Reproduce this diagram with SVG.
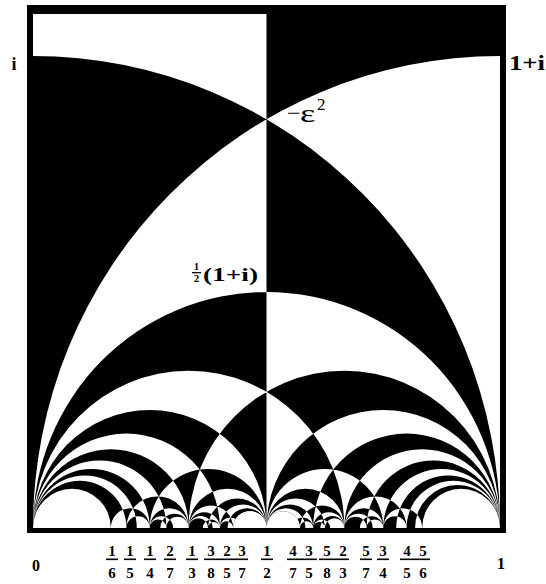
<svg xmlns="http://www.w3.org/2000/svg" width="546" height="584" viewBox="0 0 546 584">
<style>
.lab{font-family:"Liberation Serif","DejaVu Serif",serif;font-weight:bold;fill:#000}
.fr{font-family:"Liberation Serif","DejaVu Serif",serif;font-weight:bold;font-size:15px;fill:#000;text-anchor:middle}
.bar{fill:#000}
</style>
<defs>
<clipPath id="box"><rect x="33" y="14" width="467" height="514"/></clipPath>
</defs>
<rect width="546" height="584" fill="#fff"/>
<g id="frame">
<rect x="27" y="5" width="479" height="528" fill="#000"/>
<rect x="33" y="14" width="467" height="514" fill="#fff"/>
</g>
<g id="tiling" clip-path="url(#box)">
<path transform="matrix(467 0 0 -472 33 528)" fill="#000" fill-rule="evenodd" d="
M0.5,-0.2 H1.2 V1.3 H0.5 Z
M-1,0 A1,1 0 1 0 1,0 A1,1 0 1 0 -1,0Z
M0,0 A1,1 0 1 0 2,0 A1,1 0 1 0 0,0Z
M0,0 A0.5,0.5 0 1 0 1,0 A0.5,0.5 0 1 0 0,0Z
M0,0 A0.25,0.25 0 1 0 0.5,0 A0.25,0.25 0 1 0 0,0Z
M0.5,0 A0.25,0.25 0 1 0 1,0 A0.25,0.25 0 1 0 0.5,0Z
M0,0 A0.166667,0.166667 0 1 0 0.333333,0 A0.166667,0.166667 0 1 0 0,0Z
M0.333333,0 A0.083333,0.083333 0 1 0 0.5,0 A0.083333,0.083333 0 1 0 0.333333,0Z
M0.5,0 A0.083333,0.083333 0 1 0 0.666667,0 A0.083333,0.083333 0 1 0 0.5,0Z
M0.666667,0 A0.166667,0.166667 0 1 0 1,0 A0.166667,0.166667 0 1 0 0.666667,0Z
M0,0 A0.125,0.125 0 1 0 0.25,0 A0.125,0.125 0 1 0 0,0Z
M0.25,0 A0.041667,0.041667 0 1 0 0.333333,0 A0.041667,0.041667 0 1 0 0.25,0Z
M0.333333,0 A0.033333,0.033333 0 1 0 0.4,0 A0.033333,0.033333 0 1 0 0.333333,0Z
M0.4,0 A0.05,0.05 0 1 0 0.5,0 A0.05,0.05 0 1 0 0.4,0Z
M0.5,0 A0.05,0.05 0 1 0 0.6,0 A0.05,0.05 0 1 0 0.5,0Z
M0.6,0 A0.033333,0.033333 0 1 0 0.666667,0 A0.033333,0.033333 0 1 0 0.6,0Z
M0.666667,0 A0.041667,0.041667 0 1 0 0.75,0 A0.041667,0.041667 0 1 0 0.666667,0Z
M0.75,0 A0.125,0.125 0 1 0 1,0 A0.125,0.125 0 1 0 0.75,0Z
M0,0 A0.1,0.1 0 1 0 0.2,0 A0.1,0.1 0 1 0 0,0Z
M0.2,0 A0.025,0.025 0 1 0 0.25,0 A0.025,0.025 0 1 0 0.2,0Z
M0.25,0 A0.017857,0.017857 0 1 0 0.285714,0 A0.017857,0.017857 0 1 0 0.25,0Z
M0.285714,0 A0.02381,0.02381 0 1 0 0.333333,0 A0.02381,0.02381 0 1 0 0.285714,0Z
M0.333333,0 A0.020833,0.020833 0 1 0 0.375,0 A0.020833,0.020833 0 1 0 0.333333,0Z
M0.375,0 A0.0125,0.0125 0 1 0 0.4,0 A0.0125,0.0125 0 1 0 0.375,0Z
M0.4,0 A0.014286,0.014286 0 1 0 0.428571,0 A0.014286,0.014286 0 1 0 0.4,0Z
M0.428571,0 A0.035714,0.035714 0 1 0 0.5,0 A0.035714,0.035714 0 1 0 0.428571,0Z
M0.5,0 A0.035714,0.035714 0 1 0 0.571429,0 A0.035714,0.035714 0 1 0 0.5,0Z
M0.571429,0 A0.014286,0.014286 0 1 0 0.6,0 A0.014286,0.014286 0 1 0 0.571429,0Z
M0.6,0 A0.0125,0.0125 0 1 0 0.625,0 A0.0125,0.0125 0 1 0 0.6,0Z
M0.625,0 A0.020833,0.020833 0 1 0 0.666667,0 A0.020833,0.020833 0 1 0 0.625,0Z
M0.666667,0 A0.02381,0.02381 0 1 0 0.714286,0 A0.02381,0.02381 0 1 0 0.666667,0Z
M0.714286,0 A0.017857,0.017857 0 1 0 0.75,0 A0.017857,0.017857 0 1 0 0.714286,0Z
M0.75,0 A0.025,0.025 0 1 0 0.8,0 A0.025,0.025 0 1 0 0.75,0Z
M0.8,0 A0.1,0.1 0 1 0 1,0 A0.1,0.1 0 1 0 0.8,0Z
M0.333333,0 A0.333333,0.333333 0 1 0 1,0 A0.333333,0.333333 0 1 0 0.333333,0Z
M0,0 A0.333333,0.333333 0 1 0 0.666667,0 A0.333333,0.333333 0 1 0 0,0Z
M0.25,0 A0.125,0.125 0 1 0 0.5,0 A0.125,0.125 0 1 0 0.25,0Z
M0,0 A0.2,0.2 0 1 0 0.4,0 A0.2,0.2 0 1 0 0,0Z
M0.6,0 A0.2,0.2 0 1 0 1,0 A0.2,0.2 0 1 0 0.6,0Z
M0.5,0 A0.125,0.125 0 1 0 0.75,0 A0.125,0.125 0 1 0 0.5,0Z
M0.2,0 A0.066667,0.066667 0 1 0 0.333333,0 A0.066667,0.066667 0 1 0 0.2,0Z
M0,0 A0.142857,0.142857 0 1 0 0.285714,0 A0.142857,0.142857 0 1 0 0,0Z
M0.375,0 A0.0625,0.0625 0 1 0 0.5,0 A0.0625,0.0625 0 1 0 0.375,0Z
M0.333333,0 A0.047619,0.047619 0 1 0 0.428571,0 A0.047619,0.047619 0 1 0 0.333333,0Z
M0.571429,0 A0.047619,0.047619 0 1 0 0.666667,0 A0.047619,0.047619 0 1 0 0.571429,0Z
M0.5,0 A0.0625,0.0625 0 1 0 0.625,0 A0.0625,0.0625 0 1 0 0.5,0Z
M0.714286,0 A0.142857,0.142857 0 1 0 1,0 A0.142857,0.142857 0 1 0 0.714286,0Z
M0.666667,0 A0.066667,0.066667 0 1 0 0.8,0 A0.066667,0.066667 0 1 0 0.666667,0Z
M0.166667,0 A0.041667,0.041667 0 1 0 0.25,0 A0.041667,0.041667 0 1 0 0.166667,0Z
M0,0 A0.111111,0.111111 0 1 0 0.222222,0 A0.111111,0.111111 0 1 0 0,0Z
M0.272727,0 A0.030303,0.030303 0 1 0 0.333333,0 A0.030303,0.030303 0 1 0 0.272727,0Z
M0.25,0 A0.025,0.025 0 1 0 0.3,0 A0.025,0.025 0 1 0 0.25,0Z
M0.363636,0 A0.018182,0.018182 0 1 0 0.4,0 A0.018182,0.018182 0 1 0 0.363636,0Z
M0.333333,0 A0.025641,0.025641 0 1 0 0.384615,0 A0.025641,0.025641 0 1 0 0.333333,0Z
M0.416667,0 A0.041667,0.041667 0 1 0 0.5,0 A0.041667,0.041667 0 1 0 0.416667,0Z
M0.4,0 A0.022222,0.022222 0 1 0 0.444444,0 A0.022222,0.022222 0 1 0 0.4,0Z
M0.555556,0 A0.022222,0.022222 0 1 0 0.6,0 A0.022222,0.022222 0 1 0 0.555556,0Z
M0.5,0 A0.041667,0.041667 0 1 0 0.583333,0 A0.041667,0.041667 0 1 0 0.5,0Z
M0.615385,0 A0.025641,0.025641 0 1 0 0.666667,0 A0.025641,0.025641 0 1 0 0.615385,0Z
M0.6,0 A0.018182,0.018182 0 1 0 0.636364,0 A0.018182,0.018182 0 1 0 0.6,0Z
M0.7,0 A0.025,0.025 0 1 0 0.75,0 A0.025,0.025 0 1 0 0.7,0Z
M0.666667,0 A0.030303,0.030303 0 1 0 0.727273,0 A0.030303,0.030303 0 1 0 0.666667,0Z
M0.777778,0 A0.111111,0.111111 0 1 0 1,0 A0.111111,0.111111 0 1 0 0.777778,0Z
M0.75,0 A0.041667,0.041667 0 1 0 0.833333,0 A0.041667,0.041667 0 1 0 0.75,0Z
M0.818182,0 A0.090909,0.090909 0 1 0 1,0 A0.090909,0.090909 0 1 0 0.818182,0Z
"/>
<path transform="matrix(467 0 0 -472 33 528)" fill="#fff" d="
M0,0 A0.083333,0.083333 0 1 0 0.166667,0 A0.083333,0.083333 0 1 0 0,0Z
M0.833333,0 A0.083333,0.083333 0 1 0 1,0 A0.083333,0.083333 0 1 0 0.833333,0Z
M0.428571,0 A0.035714,0.035714 0 1 0 0.5,0 A0.035714,0.035714 0 1 0 0.428571,0Z
M0.5,0 A0.035714,0.035714 0 1 0 0.571429,0 A0.035714,0.035714 0 1 0 0.5,0Z
"/>
</g>
<g id="labels">
<text class="lab" x="14" y="70" style="font-size:18px" text-anchor="middle">i</text>
<text class="lab" x="509" y="70" style="font-size:20px" textLength="36" lengthAdjust="spacingAndGlyphs">1+i</text>
<text class="lab" x="287" y="121" style="font-size:24px;font-weight:normal">−</text>
<text class="lab" transform="translate(300,122) scale(1.4,1)" style="font-size:26px;font-weight:normal">ε</text>
<text class="lab" x="317" y="110" style="font-size:17px;font-weight:normal">2</text>
<text class="lab" x="196.5" y="270" style="font-size:11px" text-anchor="middle">1</text>
<rect class="bar" x="192" y="272" width="9" height="1.3"/>
<text class="lab" x="196.5" y="282" style="font-size:11px" text-anchor="middle">2</text>
<text class="lab" x="203" y="281" style="font-size:19px" textLength="55" lengthAdjust="spacingAndGlyphs">(1+i)</text>
<text class="lab" x="36" y="571" style="font-size:16px" text-anchor="middle">0</text>
<text class="lab" x="501" y="569" style="font-size:16px" text-anchor="middle">1</text>
</g>
<g id="fractions">
<text class="fr" x="112" y="556">1</text><rect class="bar" x="106" y="558.5" width="12" height="1.6"/><text class="fr" x="112" y="578">6</text>
<text class="fr" x="130" y="556">1</text><rect class="bar" x="124" y="558.5" width="12" height="1.6"/><text class="fr" x="130" y="578">5</text>
<text class="fr" x="150" y="556">1</text><rect class="bar" x="144" y="558.5" width="12" height="1.6"/><text class="fr" x="150" y="578">4</text>
<text class="fr" x="170" y="556">2</text><rect class="bar" x="164" y="558.5" width="12" height="1.6"/><text class="fr" x="170" y="578">7</text>
<text class="fr" x="192" y="556">1</text><rect class="bar" x="186" y="558.5" width="12" height="1.6"/><text class="fr" x="192" y="578">3</text>
<text class="fr" x="211" y="556">3</text><rect class="bar" x="204" y="558.5" width="14" height="1.6"/><text class="fr" x="211" y="578">8</text>
<text class="fr" x="227" y="556">2</text><rect class="bar" x="218" y="558.5" width="16" height="1.6"/><text class="fr" x="227" y="578">5</text>
<text class="fr" x="242" y="556">3</text><rect class="bar" x="234" y="558.5" width="14" height="1.6"/><text class="fr" x="242" y="578">7</text>
<text class="fr" x="267" y="556">1</text><rect class="bar" x="261" y="558.5" width="12" height="1.6"/><text class="fr" x="267" y="578">2</text>
<text class="fr" x="293" y="556">4</text><rect class="bar" x="287" y="558.5" width="14" height="1.6"/><text class="fr" x="293" y="578">7</text>
<text class="fr" x="309" y="556">3</text><rect class="bar" x="301" y="558.5" width="16" height="1.6"/><text class="fr" x="309" y="578">5</text>
<text class="fr" x="327" y="556">5</text><rect class="bar" x="319" y="558.5" width="16" height="1.6"/><text class="fr" x="327" y="578">8</text>
<text class="fr" x="343" y="556">2</text><rect class="bar" x="335" y="558.5" width="14" height="1.6"/><text class="fr" x="343" y="578">3</text>
<text class="fr" x="366" y="556">5</text><rect class="bar" x="360" y="558.5" width="12" height="1.6"/><text class="fr" x="366" y="578">7</text>
<text class="fr" x="383" y="556">3</text><rect class="bar" x="377" y="558.5" width="12" height="1.6"/><text class="fr" x="383" y="578">4</text>
<text class="fr" x="407" y="556">4</text><rect class="bar" x="400" y="558.5" width="15" height="1.6"/><text class="fr" x="407" y="578">5</text>
<text class="fr" x="423" y="556">5</text><rect class="bar" x="415" y="558.5" width="15" height="1.6"/><text class="fr" x="423" y="578">6</text>
</g>
</svg>
